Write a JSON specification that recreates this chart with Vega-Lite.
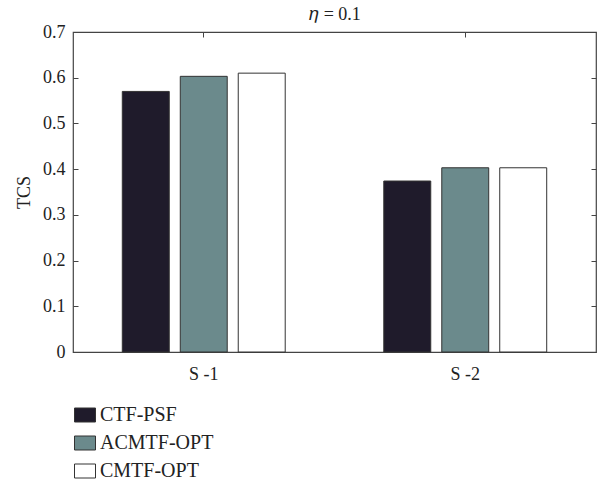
{
  "$schema": "https://vega.github.io/schema/vega-lite/v6.json",
  "width": 523,
  "height": 320,
  "autosize": {"type": "none"},
  "padding": {"left": 73, "top": 32, "right": 10, "bottom": 128},
  "background": "white",
  "data": {
    "values": [
      {"group": "S-1", "method": "CTF-PSF", "tcs": 0.570},
      {"group": "S-1", "method": "ACMTF-OPT", "tcs": 0.603},
      {"group": "S-1", "method": "CMTF-OPT", "tcs": 0.610},
      {"group": "S-2", "method": "CTF-PSF", "tcs": 0.374},
      {"group": "S-2", "method": "ACMTF-OPT", "tcs": 0.403},
      {"group": "S-2", "method": "CMTF-OPT", "tcs": 0.403}
    ]
  },
  "layer": [
    {
      "mark": {"type": "bar", "stroke": "#333333", "strokeWidth": 1},
      "encoding": {
        "x": {
          "field": "group",
          "type": "nominal",
          "scale": {"paddingInner": 0, "paddingOuter": 0},
          "axis": {
            "title": null,
            "labelAngle": 0,
            "labelExpr": "replace(datum.label, '-', ' -')",
            "tickSize": -5,
            "labelPadding": 18,
            "domain": false
          }
        },
        "xOffset": {
          "field": "method",
          "type": "nominal",
          "sort": ["CTF-PSF", "ACMTF-OPT", "CMTF-OPT"],
          "scale": {"paddingInner": 0.19, "paddingOuter": 0.85}
        },
        "y": {
          "field": "tcs",
          "type": "quantitative",
          "scale": {"domain": [0, 0.7], "nice": false},
          "axis": {
            "title": "TCS",
            "values": [0, 0.1, 0.2, 0.3, 0.4, 0.5, 0.6, 0.7],
            "labelExpr": "datum.value == 0 ? '0' : format(datum.value, '.1f')",
            "tickSize": -5,
            "labelPadding": 13,
            "titlePadding": 9,
            "grid": false,
            "domain": false
          }
        },
        "color": {
          "field": "method",
          "type": "nominal",
          "sort": ["CTF-PSF", "ACMTF-OPT", "CMTF-OPT"],
          "scale": {
            "domain": ["CTF-PSF", "ACMTF-OPT", "CMTF-OPT"],
            "range": ["#1f1b2b", "#6b8a8c", "#ffffff"]
          },
          "legend": {
            "title": null,
            "orient": "none",
            "legendX": 2,
            "legendY": 373,
            "symbolType": "M-1.5,-1H1.5V1H-1.5Z",
            "symbolSize": 196,
            "symbolStrokeColor": "#333333",
            "symbolStrokeWidth": 1,
            "symbolOpacity": 1,
            "labelFont": "Liberation Serif",
            "labelFontSize": 20,
            "labelColor": "#222222",
            "labelOffset": 5,
            "rowPadding": 8
          }
        }
      }
    },
    {
      "mark": {"type": "bar", "opacity": 0},
      "encoding": {
        "x": {
          "field": "group",
          "type": "nominal",
          "axis": {
            "orient": "top",
            "title": "𝜂 = 0.1",
            "titlePadding": 8,
            "labels": false,
            "tickSize": -5,
            "domain": false
          }
        },
        "y": {
          "field": "tcs",
          "type": "quantitative",
          "axis": {
            "orient": "right",
            "title": null,
            "labels": false,
            "values": [0, 0.1, 0.2, 0.3, 0.4, 0.5, 0.6, 0.7],
            "tickSize": -5,
            "grid": false,
            "domain": false
          }
        }
      }
    }
  ],
  "resolve": {"axis": {"x": "independent", "y": "independent"}},
  "config": {
    "view": {"stroke": "#444444", "strokeWidth": 1.2},
    "axis": {
      "labelFont": "Liberation Serif",
      "labelFontSize": 18,
      "labelColor": "#222222",
      "titleFont": "Liberation Serif",
      "titleFontSize": 18,
      "titleFontWeight": "normal",
      "titleColor": "#222222",
      "tickColor": "#444444",
      "tickWidth": 1
    }
  }
}
